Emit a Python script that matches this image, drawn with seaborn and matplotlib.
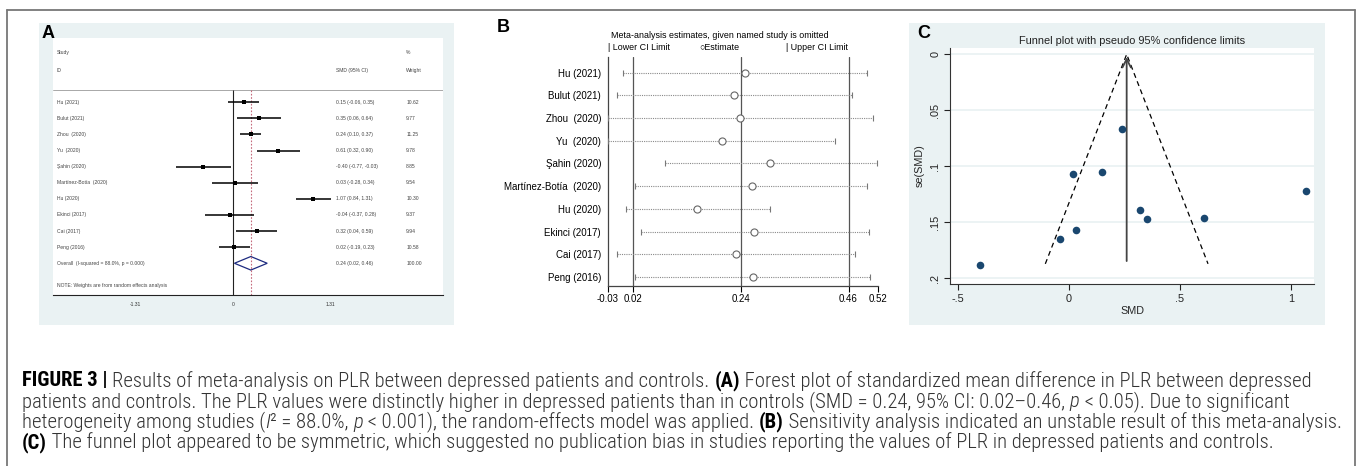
import numpy as np
import pandas as pd
import matplotlib
matplotlib.use("Agg")
import matplotlib.pyplot as plt
import seaborn as sns
from matplotlib.patches import Rectangle, Polygon
from matplotlib.lines import Line2D
from matplotlib import font_manager

# ---------------- data ----------------
studies_A = ["Hu (2021)", "Bulut (2021)", "Zhou  (2020)", "Yu  (2020)", "Şahin (2020)",
             "Martínez-Botía  (2020)", "Hu (2020)", "Ekinci (2017)", "Cai (2017)", "Peng (2016)"]
studies_B = ["Hu (2021)", "Bulut (2021)", "Zhou  (2020)", "Yu  (2020)", "Şahin (2020)",
             "Martínez-Botía  (2020)", "Hu (2020)", "Ekinci (2017)", "Cai (2017)", "Peng (2016)"]
smd = [0.15, 0.35, 0.24, 0.61, -0.40, 0.03, 1.07, -0.04, 0.32, 0.02]
ci_lo = [-0.06, 0.06, 0.10, 0.32, -0.77, -0.28, 0.84, -0.37, 0.04, -0.19]
ci_hi = [0.35, 0.64, 0.37, 0.90, -0.03, 0.34, 1.31, 0.28, 0.59, 0.23]
weights = [10.62, 9.77, 11.25, 9.78, 8.85, 9.54, 10.30, 9.37, 9.94, 10.58]
overall = [0.24, 0.02, 0.46]          # estimate, lower, upper
overall_weight = 100.00
forest_ticks = [-1.31, 0, 1.31]

loo_est = [0.250, 0.227, 0.239, 0.202, 0.301, 0.263, 0.151, 0.268, 0.230, 0.265]
loo_lo = [0.001, -0.012, -0.029, -0.030, 0.086, 0.026, 0.006, 0.037, -0.011, 0.025]
loo_hi = [0.497, 0.468, 0.509, 0.432, 0.517, 0.497, 0.301, 0.502, 0.473, 0.504]
sens_ticks = [-0.03, 0.02, 0.24, 0.46, 0.52]

se_smd = [0.105, 0.147, 0.067, 0.146, 0.188, 0.157, 0.122, 0.165, 0.139, 0.107]
funnel_center = 0.26
funnel_se_max = 0.187
funnel_xticks = [-0.5, 0, 0.5, 1]
funnel_xlabels = ["-.5", "0", ".5", "1"]
funnel_yticks = [0, 0.05, 0.1, 0.15, 0.2]
funnel_ylabels = ["0", ".05", ".1", ".15", ".2"]

# ---------------- setup ----------------
sns.set_theme(style="white")
plt.rcParams["font.family"] = ["Liberation Sans", "DejaVu Sans"]

W, H = 1360, 466
fig = plt.figure(figsize=(W / 100, H / 100), dpi=100)
fig.patch.set_facecolor("white")


def fx(x):
    return x / W


def fy(y):
    return 1 - y / H


def axrect(x0, y0, x1, y1):
    return [x0 / W, 1 - y1 / H, (x1 - x0) / W, (y1 - y0) / H]


BG = "#eaf2f3"

# outer frame
for xs, ys in [([7, 7], [10, 466]), ([7, 1355], [10, 10]), ([1355, 1355], [10, 466])]:
    fig.add_artist(Line2D([fx(v) for v in xs], [fy(v) for v in ys], color="#777777", lw=1.3))

# ---------------- Panel A: forest plot ----------------
fig.add_artist(Rectangle((fx(39), fy(325)), (454 - 39) / W, (325 - 23) / H,
                         transform=fig.transFigure, facecolor=BG, edgecolor="none", zorder=0))
axA = fig.add_axes(axrect(52.7, 38, 443, 295))
axA.set_facecolor("white")
axA.set_xlim(-2.42, 2.82)
axA.set_ylim(11.97, -3.99)
for s in ["top", "right", "left"]:
    axA.spines[s].set_visible(False)
axA.spines["bottom"].set_color("#222222")
axA.spines["bottom"].set_linewidth(0.8)
axA.set_xticks(forest_ticks)
axA.set_xticklabels(["-1.31", "0", "1.31"])
axA.tick_params(axis="x", length=3, width=0.6, labelsize=3.6, pad=2, colors="#333333")
axA.set_yticks([])

rows = np.arange(len(studies_A))
fs_a = 3.6
tc = "#444444"
axA.axhline(-0.76, color="#9a9a9a", lw=0.6)
axA.vlines(0, -0.76, 11.97, color="#222222", lw=0.8)
axA.vlines(overall[0], -0.76, 11.97, color="#c46a7c", lw=0.8, linestyles=(0, (1.5, 1.5)))
axA.hlines(rows, ci_lo, ci_hi, color="black", lw=1.1)
dfA = pd.DataFrame({"smd": smd, "row": rows})
sns.scatterplot(data=dfA, x="smd", y="row", marker="s", color="black", s=6, linewidth=0, ax=axA, zorder=3)
axA.set_xlabel("")
axA.set_ylabel("")
n = len(studies_A)
axA.add_patch(Polygon([(overall[1], n), (overall[0], n - 0.42), (overall[2], n), (overall[0], n + 0.42)],
                      closed=True, fill=False, edgecolor="#1d2b80", lw=0.9))

x_lab, x_ci, x_w = -2.365, 1.385, 2.325
axA.text(x_lab, -3.06, "Study", fontsize=fs_a, va="center", color=tc)
axA.text(x_lab, -2.0, "ID", fontsize=fs_a, va="center", color=tc)
axA.text(x_ci, -2.0, "SMD (95% CI)", fontsize=fs_a, va="center", color=tc)
axA.text(x_w, -3.06, "%", fontsize=fs_a, va="center", color=tc)
axA.text(x_w, -2.0, "Weight", fontsize=fs_a, va="center", color=tc)
for i in range(n):
    axA.text(x_lab, i, studies_A[i], fontsize=fs_a, va="center", color=tc)
    axA.text(x_ci, i, f"{smd[i]:.2f} ({ci_lo[i]:.2f}, {ci_hi[i]:.2f})", fontsize=fs_a, va="center", color=tc)
    axA.text(x_w, i, f"{weights[i]:.2f}", fontsize=fs_a, va="center", color=tc)
axA.text(x_lab, n, "Overall  (I-squared = 88.0%, p = 0.000)", fontsize=fs_a, va="center", color=tc)
axA.text(x_ci, n, f"{overall[0]:.2f} ({overall[1]:.2f}, {overall[2]:.2f})", fontsize=fs_a, va="center", color=tc)
axA.text(x_w, n, f"{overall_weight:.2f}", fontsize=fs_a, va="center", color=tc)
axA.text(x_lab, n + 1.41, "NOTE: Weights are from random effects analysis", fontsize=fs_a, va="center", color=tc)

# ---------------- Panel B: sensitivity analysis ----------------
axB = fig.add_axes(axrect(608, 57, 878, 286))
axB.set_facecolor("white")
axB.set_xlim(sens_ticks[0], sens_ticks[-1])
axB.set_ylim(9.4, -0.69)
for s in ["top", "right"]:
    axB.spines[s].set_visible(False)
for s in ["left", "bottom"]:
    axB.spines[s].set_color("#444444")
    axB.spines[s].set_linewidth(0.9)
for v in overall[1:] + overall[:1]:
    axB.axvline(v, color="#555555", lw=0.9)
rowsB = np.arange(len(studies_B))
axB.hlines(rowsB, loo_lo, loo_hi, color="#8a8a8a", lw=0.8, linestyles=(0, (1, 1)))
axB.scatter(loo_lo, rowsB, marker="|", s=24, color="#777777", linewidths=0.8, zorder=3)
axB.scatter(loo_hi, rowsB, marker="|", s=24, color="#777777", linewidths=0.8, zorder=3)
dfB = pd.DataFrame({"est": loo_est, "row": rowsB})
sns.scatterplot(data=dfB, x="est", y="row", marker="o", s=26, facecolor="white",
                edgecolor="#666666", linewidth=0.8, ax=axB, zorder=4)
axB.set_xlabel("")
axB.set_ylabel("")
axB.set_yticks(rowsB)
axB.set_yticklabels(studies_B)
axB.tick_params(axis="y", length=0, pad=5, labelsize=7, colors="black")
axB.set_xticks(sens_ticks)
axB.set_xticklabels([f"{v:.2f}" for v in sens_ticks])
axB.tick_params(axis="x", length=4, width=0.8, labelsize=7, pad=2, colors="black", bottom=True)

fs_b = 6.4
fig.text(fx(720), fy(35), "Meta-analysis estimates, given named study is omitted",
         ha="center", va="center", fontsize=fs_b, color="black")
fig.text(fx(608), fy(47), "| Lower CI Limit", ha="left", va="center", fontsize=fs_b, color="black")
fig.text(fx(699), fy(47), "○Estimate", ha="left", va="center", fontsize=fs_b, color="black")
fig.text(fx(786), fy(47), "| Upper CI Limit", ha="left", va="center", fontsize=fs_b, color="black")

# ---------------- Panel C: funnel plot ----------------
fig.add_artist(Rectangle((fx(909), fy(325)), (1325 - 909) / W, (325 - 23) / H,
                         transform=fig.transFigure, facecolor=BG, edgecolor="none", zorder=0))
axC = fig.add_axes(axrect(950, 48, 1314, 284))
axC.set_facecolor("white")
axC.set_xlim(-0.536, 1.104)
axC.set_ylim(0.205, -0.0056)
for s in ["top", "right"]:
    axC.spines[s].set_visible(False)
for s in ["left", "bottom"]:
    axC.spines[s].set_color("#333333")
    axC.spines[s].set_linewidth(0.8)
axC.set_yticks(funnel_yticks)
axC.set_yticklabels(funnel_ylabels, rotation=90, va="center")
axC.set_xticks(funnel_xticks)
axC.set_xticklabels(funnel_xlabels)
axC.yaxis.grid(True, color=BG, lw=1.3)
axC.xaxis.grid(False)
axC.tick_params(axis="both", length=4, width=0.8, labelsize=7.8, pad=3, colors="#222222",
                left=True, bottom=True)
half = 1.96 * funnel_se_max
axC.plot([funnel_center - half, funnel_center, funnel_center + half],
         [funnel_se_max, 0, funnel_se_max], ls=(0, (4, 3)), color="black", lw=0.9, zorder=2)
axC.annotate("", xy=(funnel_center, 0), xytext=(funnel_center, funnel_se_max),
             arrowprops=dict(arrowstyle="->,head_length=0.5,head_width=0.25", color="#444444", lw=1.3))
dfC = pd.DataFrame({"SMD": smd, "se": se_smd})
sns.scatterplot(data=dfC, x="SMD", y="se", color="#1a476f", s=30, linewidth=0, ax=axC, zorder=4)
axC.set_xlabel("SMD", fontsize=7.8, labelpad=2)
axC.set_ylabel("se(SMD)", fontsize=7.8, labelpad=4)
fig.text(fx(1132), fy(40.7), "Funnel plot with pseudo 95% confidence limits",
         ha="center", va="center", fontsize=7.9, color="#222222")

# panel letters
for lab, x, y in [("A", 48, 33), ("B", 503, 28), ("C", 924, 33)]:
    fig.text(fx(x), fy(y), lab, ha="center", va="center", fontsize=13, fontweight="bold", color="black")

# ---------------- caption ----------------
available = {f.name for f in font_manager.fontManager.ttflist}
cap_family = next((f for f in ["Liberation Sans Narrow", "Roboto Condensed", "Open Sans Condensed",
                               "Liberation Sans"] if f in available), "DejaVu Sans")
cap_fam = [cap_family, "DejaVu Sans"]
cap_color = "#333333"

N, B, I, L = "light", "bold", "italic", "normal"
lines = [
    [("FIGURE 3 | ", B, L), ("Results of meta-analysis on PLR between depressed patients and controls. ", N, L),
     ("(A)", B, L), (" Forest plot of standardized mean difference in PLR between depressed", N, L)],
    [("patients and controls. The PLR values were distinctly higher in depressed patients than in controls "
      "(SMD = 0.24, 95% CI: 0.02–0.46, ", N, L), ("p", N, I), (" < 0.05). Due to significant", N, L)],
    [("heterogeneity among studies (", N, L), ("I", N, I), ("² = 88.0%, ", N, L), ("p", N, I),
     (" < 0.001), the random-effects model was applied. ", N, L), ("(B)", B, L),
     (" Sensitivity analysis indicated an unstable result of this meta-analysis.", N, L)],
    [("(C)", B, L), (" The funnel plot appeared to be symmetric, which suggested no publication bias in studies "
                     "reporting the values of PLR in depressed patients and controls.", N, L)],
]
renderer = fig.canvas.get_renderer()


def seg_width(txt, weight, style, size):
    t1 = fig.text(0, 0, txt + "|", fontsize=size, fontweight=weight, fontstyle=style, family=cap_fam)
    t2 = fig.text(0, 0, "|", fontsize=size, fontweight=weight, fontstyle=style, family=cap_fam)
    w = t1.get_window_extent(renderer).width - t2.get_window_extent(renderer).width
    t1.remove()
    t2.remove()
    return w


ref_size = 10.0
w3 = sum(seg_width(t, wt, st, ref_size) for t, wt, st in lines[2])
cap_size = ref_size * 1316.0 / w3
cap_x0 = 22
cap_ys = [381, 401.5, 422, 442.5]
for segs, yy in zip(lines, cap_ys):
    x = cap_x0
    for txt, wt, st in segs:
        fig.text(fx(x), fy(yy), txt, fontsize=cap_size, fontweight=wt, fontstyle=st, family=cap_fam,
                 ha="left", va="center", color="black" if wt == B else cap_color)
        x += seg_width(txt, wt, st, cap_size)

fig.savefig("out.png", dpi=100, facecolor="white")
